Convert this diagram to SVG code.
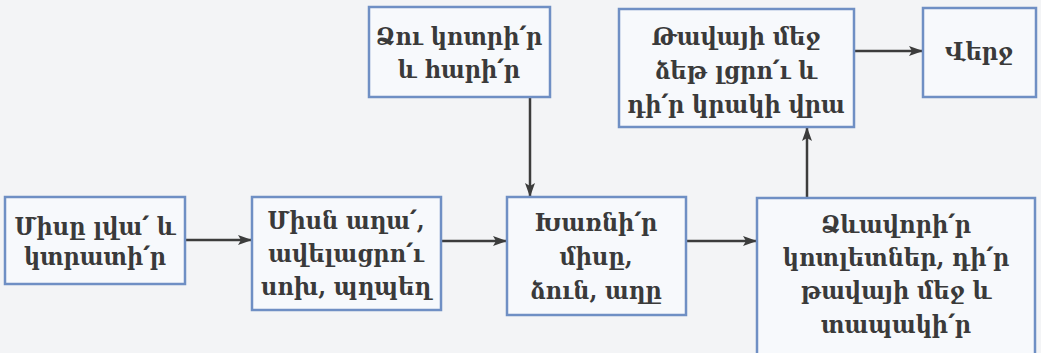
<svg xmlns="http://www.w3.org/2000/svg" width="1041" height="353" viewBox="0 0 1041 353">
<style>
.box{fill:#f7f9fc;stroke:#6f8fc4;stroke-width:2.5}
.t{font-family:"DejaVu Serif Condensed","DejaVu Serif","Liberation Serif",serif;font-stretch:condensed;font-weight:bold;font-size:25px;fill:#3a3a3a;text-anchor:middle}
.c{stroke:#3c3c3c;stroke-width:2.5;fill:none;marker-end:url(#ah)}
</style>
<defs>
<marker id="ah" markerWidth="14" markerHeight="10" refX="13" refY="5" orient="auto" markerUnits="userSpaceOnUse">
<path d="M0,0 L14,5 L0,10 L3,5 Z" fill="#3c3c3c"/>
</marker>
</defs>
<rect width="1041" height="353" fill="#f3f4f6"/>
<g id="connectors">
<line class="c" x1="186" y1="240" x2="251" y2="240"/>
<line class="c" x1="442" y1="241" x2="506" y2="241"/>
<line class="c" x1="687" y1="241" x2="756" y2="241"/>
<line class="c" x1="530" y1="97" x2="530" y2="196"/>
<line class="c" x1="807" y1="197" x2="807" y2="128"/>
<line class="c" x1="854" y1="51" x2="922" y2="51"/>
</g>
<g id="n1">
<rect class="box" x="5" y="197" width="180" height="87"/>
<text class="t" x="95" y="235">Միսը լվա՛ և</text>
<text class="t" x="95" y="265">կտրատի՛ր</text>
</g>
<g id="n2">
<rect class="box" x="252" y="197" width="189" height="113"/>
<text class="t" x="346" y="229">Միսն աղա՛,</text>
<text class="t" x="346" y="262">ավելացրո՛ւ</text>
<text class="t" x="346" y="295">սոխ, պղպեղ</text>
</g>
<g id="n3">
<rect class="box" x="507" y="197" width="179" height="118"/>
<text class="t" x="596" y="231">Խառնի՛ր</text>
<text class="t" x="596" y="265">միսը,</text>
<text class="t" x="596" y="299">ձուն, աղը</text>
</g>
<g id="n4">
<rect class="box" x="757" y="198" width="278" height="160"/>
<text class="t" x="896" y="233">Ձևավորի՛ր</text>
<text class="t" x="896" y="266">կոտլետներ, դի՛ր</text>
<text class="t" x="896" y="299">թավայի մեջ և</text>
<text class="t" x="896" y="333">տապակի՛ր</text>
</g>
<g id="n5">
<rect class="box" x="369" y="7" width="181" height="90"/>
<text class="t" x="459" y="45">Ձու կոտրի՛ր</text>
<text class="t" x="459" y="78">և հարի՛ր</text>
</g>
<g id="n6">
<rect class="box" x="619" y="9" width="235" height="118"/>
<text class="t" x="736" y="45">Թավայի մեջ</text>
<text class="t" x="736" y="79">ձեթ լցրո՛ւ և</text>
<text class="t" x="736" y="113">դի՛ր կրակի վրա</text>
</g>
<g id="n7">
<rect class="box" x="923" y="8" width="113" height="89"/>
<text class="t" x="979" y="60">Վերջ</text>
</g>
</svg>
